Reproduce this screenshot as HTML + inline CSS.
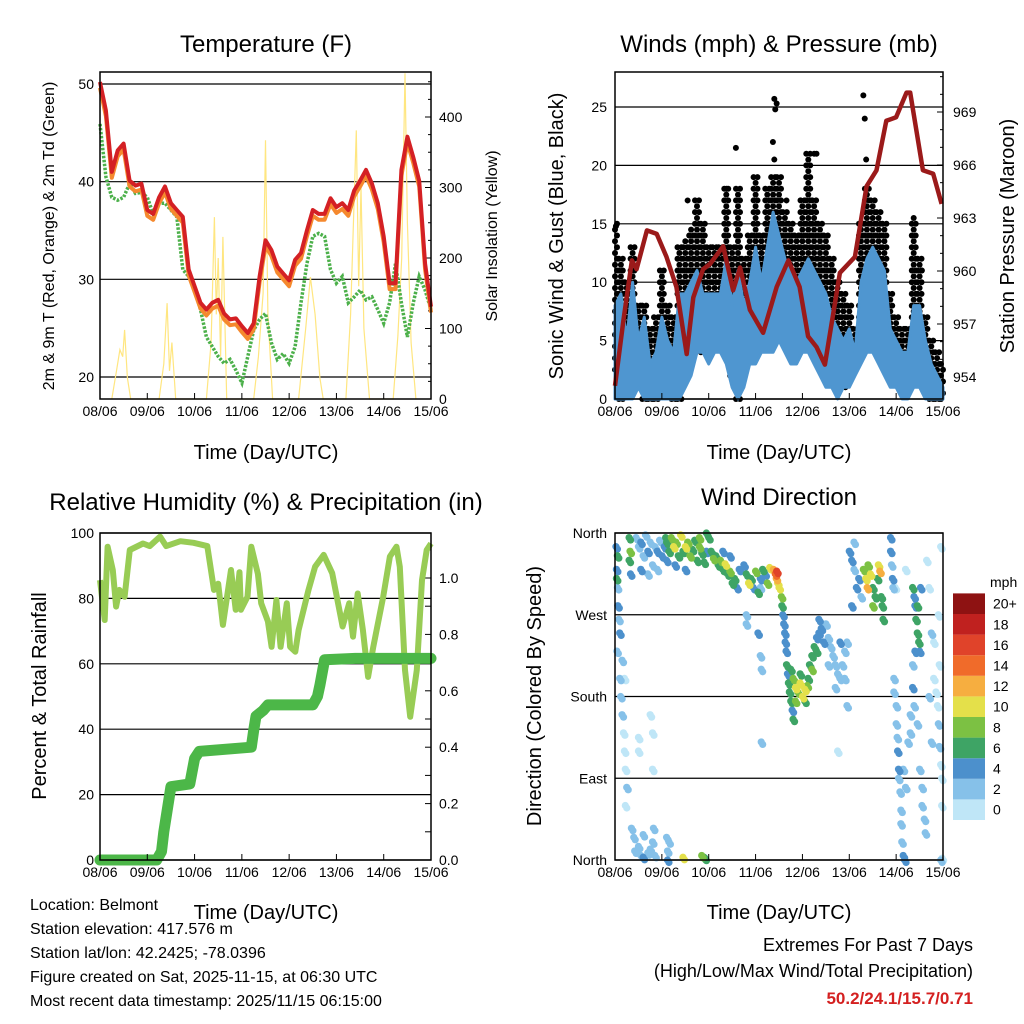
<!DOCTYPE html>
<html><head><meta charset="utf-8"><style>
html,body{margin:0;padding:0;background:#fff}
svg{display:block;font-family:"Liberation Sans",sans-serif}
</style></head><body>
<svg id="c" width="1024" height="1024" viewBox="0 0 1024 1024" xmlns="http://www.w3.org/2000/svg">
<text x="266" y="52" font-size="24" text-anchor="middle">Temperature (F)</text>
<text x="779" y="52" font-size="24" text-anchor="middle">Winds (mph) &amp; Pressure (mb)</text>
<text x="266" y="510" font-size="24" text-anchor="middle">Relative Humidity (%) &amp; Precipitation (in)</text>
<text x="779" y="505" font-size="24" text-anchor="middle">Wind Direction</text>
<text x="266" y="459" font-size="20" text-anchor="middle">Time (Day/UTC)</text>
<text x="779" y="459" font-size="20" text-anchor="middle">Time (Day/UTC)</text>
<text x="266" y="919" font-size="20" text-anchor="middle">Time (Day/UTC)</text>
<text x="779" y="919" font-size="20" text-anchor="middle">Time (Day/UTC)</text>
<text transform="translate(54,236) rotate(-90)" font-size="16" text-anchor="middle">2m &amp; 9m T (Red, Orange) &amp; 2m Td (Green)</text>
<text transform="translate(497,236) rotate(-90)" font-size="16" text-anchor="middle">Solar Insolation (Yellow)</text>
<text transform="translate(563,236) rotate(-90)" font-size="20" text-anchor="middle">Sonic Wind &amp; Gust (Blue, Black)</text>
<text transform="translate(1014,236) rotate(-90)" font-size="20" text-anchor="middle">Station Pressure (Maroon)</text>
<text transform="translate(46,696) rotate(-90)" font-size="20" text-anchor="middle">Percent &amp; Total Rainfall</text>
<text transform="translate(541,696) rotate(-90)" font-size="20" text-anchor="middle">Direction (Colored By Speed)</text>
<g font-size="16">
<text x="30" y="910">Location: Belmont</text>
<text x="30" y="934">Station elevation: 417.576 m</text>
<text x="30" y="958">Station lat/lon: 42.2425; -78.0396</text>
<text x="30" y="982">Figure created on Sat, 2025-11-15, at 06:30 UTC</text>
<text x="30" y="1006">Most recent data timestamp: 2025/11/15 06:15:00</text>
</g>
<g font-size="18" text-anchor="end">
<text x="973" y="951">Extremes For Past 7 Days</text>
<text x="973" y="977">(High/Low/Max Wind/Total Precipitation)</text>
<text x="973" y="1004" fill="#d42020" font-weight="bold" font-size="17">50.2/24.1/15.7/0.71</text>
</g>
</svg>
<script>
// ---------- data ----------
const dayLabels=["08/06","09/06","10/06","11/06","12/06","13/06","14/06","15/06"];
const tempRed=[50.2,47.3,41,43.2,43.9,40.1,39.6,39.8,37.1,36.7,38.4,39.5,37.8,37.1,36.4,31,29.3,27.6,26.9,27.6,27.9,26.5,25.9,26,25.2,24.5,25.5,30.3,34,33,31.3,30.6,29.9,32,32.7,35,37.1,36.7,36.7,38.3,37.4,37.8,37.1,39.1,40.1,41.2,39.8,37.8,34.4,29.6,29.6,41.2,44.6,42.5,40.1,31.6,27.2];
const tempDew=[45.9,40.5,38.4,38.1,38.4,39.8,38.8,38.9,38.4,36.7,37.8,37.8,37.1,36.4,31,30.3,28.9,26.9,24.1,23.1,22.1,21.4,21.8,20.7,19.4,22.1,24.8,25.9,26.5,23.5,21.8,22.4,21.4,23.1,27.6,31.6,34.4,34.7,34.4,31,29.6,30.3,27.6,28.2,28.9,27.9,28.2,26.9,25.5,27.6,31.6,27.6,24.1,27.6,30.3,28.9,26.9];
const solarT=[0.25,0.35,0.42,0.48,0.52,0.58,0.65, 1.25,1.35,1.42,1.47,1.52,1.6, 2.25,2.35,2.42,2.46,2.5,2.55,2.6,2.68, 3.25,3.35,3.45,3.5,3.55,3.65, 4.2,4.35,4.45,4.55,4.65,4.72, 5.2,5.3,5.35,5.42,5.47,5.52,5.58,5.7, 6.2,6.3,6.38,6.45,6.5,6.58,6.68];
const solarV=[0,40,70,60,98,30,0, 0,50,136,40,80,0, 0,80,258,120,200,60,230,0, 0,60,150,367,120,0, 0,100,173,120,30,0, 0,120,230,381,160,300,100,0, 0,90,200,462,250,80,0];
const presT=[0,0.18,0.36,0.46,0.68,0.89,1.1,1.31,1.53,1.67,1.88,2.03,2.31,2.52,2.67,2.88,3.16,3.45,3.7,3.94,4.12,4.3,4.48,4.8,5.12,5.37,5.58,5.79,6.0,6.22,6.3,6.57,6.79,6.97];
const presV=[953.5,957.2,960.6,960.1,962.3,962.1,960.8,959.1,955.3,958.5,960.1,960.4,961.4,958.9,960.2,957.8,956.5,959.1,960.6,959.1,956.3,955.7,954.7,959.9,960.8,964.8,965.7,968.5,968.7,970.1,970.1,965.7,965.5,963.8];
const gustHi=[15,12,10,13,8,8,6,7,11,8,7,13,13.5,14.5,17,15,13,13,13,18,13,18,12,14,19,14,18,19,19,16,15,14,17,21,17,15,14,12,10,9,8,6,15,18,17,16,15,9,7,6,6,15.5,12,7,5,4,3];
const gustLo=[2,0,1,3,3,0,0,0,2,2,0,0,3,5,5,4,4,5,5,4,2,0,3,4,5,6,5,6,7,5,4,5,5,6,4,3,3,2,1,1,2,3,5,6,6,5,3,2,2,1,1,2,2,1,0,0,0];
const windHi=[8,9,5,10,5,7,3,4,7,5,4,9,9,10,11,9,9,9,9,12,8,11,8,10,13,10,13,16,14,12,11,10,11,12,11,10,9,7,6,5,6,4,10,12,13,12,11,6,5,4,4,8,8,5,3,2,1];
const windLo=[0,0,0,0,1,0,0,0,0,0,0,0,1,2,4,4,3,4,4,3,1,0,1,3,3,4,4,4,5,4,3,3,4,4,3,2,1,1,0,1,1,2,3,4,4,3,2,1,1,0,0,1,1,0,0,0,0];
const outT=[3.4,3.45,3.42,3.37,3.4,5.3,5.33,5.36,2.58,4.3,4.25,3.66,1.55,2.38,6.55,0.02];
const outV=[25.7,25.3,24.8,22,20.5,26,24,20.5,21.5,21,21,17,17,18,11,14.8];
const rhT=[0,0.1,0.16,0.27,0.34,0.41,0.52,0.63,0.91,1.05,1.27,1.4,1.7,1.98,2.27,2.41,2.5,2.6,2.77,2.87,2.95,2.98,3.12,3.2,3.34,3.41,3.55,3.63,3.73,3.82,3.95,4.02,4.13,4.2,4.41,4.55,4.73,4.91,5.13,5.27,5.35,5.45,5.56,5.67,5.78,5.99,6.13,6.27,6.34,6.45,6.56,6.7,6.81,6.91,7];
const rhV=[85.6,73.4,95.8,88.7,77.5,82.6,80.5,94.8,96.8,96,98.9,96,97.5,97,96,82.6,84.5,71.9,88.7,76.5,88,76.5,80.5,95.8,87.5,78.5,73,65.2,79.5,65.2,78.5,65.2,63.7,70.3,82.6,89.7,93.3,87.7,71.4,78.5,68.3,81.5,70.3,56,65.2,80.5,92.8,95.8,89.7,58.1,43.8,58.1,85.6,94.8,96.8];
const rainT=[0,1.2,1.3,1.35,1.5,1.9,2.0,2.1,3.2,3.25,3.3,3.45,3.55,4.5,4.6,4.65,4.75,5.4,7];
const rainV=[0,0,0.03,0.1,0.26,0.27,0.36,0.385,0.40,0.46,0.51,0.53,0.55,0.55,0.58,0.62,0.71,0.715,0.715];
const dirT=[
0.02,0.03,0.05,0.06,0.08,0.1,0.04,0.1,0.12,0.15,0.18,0.2,0.22,0.25,0.22,0.05,0.03,0.3,0.32,0.3,0.33,
0.45,0.5,0.55,0.6,0.65,0.7,0.75,0.8,0.85,0.9,0.95,1.0,1.05,1.1,0.55,0.7,0.9,1.08,
0.35,0.4,0.42,0.5,0.55,0.6,0.7,0.75,0.8,0.82,0.85,1.1,1.12,0.8,0.8,0.75,0.2,0.15,0.5,0.5,
1.1,1.15,1.2,1.25,1.3,1.35,1.4,1.45,1.5,1.55,1.6,1.65,1.7,1.75,1.8,1.85,1.9,1.95,1.28,1.5,1.8,1.95,2.0,
2.05,2.1,2.15,2.2,2.25,2.3,2.35,2.4,2.45,2.5,2.55,2.6,2.65,2.3,2.45,
2.75,2.8,2.85,2.9,2.95,3.0,3.05,3.1,3.15,3.2,3.25,3.3,2.8,2.8,3.1,3.05,3.1,3.12,3.12,
3.38,3.42,3.45,3.44,3.47,3.5,
3.55,3.56,3.58,3.6,3.62,3.63,3.65,3.66,3.68,3.7,3.72,3.75,3.78,3.8,
3.75,3.8,3.85,3.9,3.95,4.0,4.05,4.1,4.12,3.85,3.95,4.05,
4.15,4.2,4.25,4.3,4.35,4.4,4.3,4.45,4.5,4.2,4.35,
4.55,4.6,4.65,4.7,4.75,4.8,4.85,4.9,4.95,4.7,4.55,4.8,4.9,4.75,4.95,
5.0,5.05,5.1,5.15,5.2,5.25,5.05,5.1,
5.3,5.35,5.38,5.4,5.45,5.5,5.55,5.6,5.62,5.65,5.68,5.7,5.72,5.5,
5.88,5.88,5.9,5.92,5.93,5.95,5.95,6.0,6.0,6.02,6.03,6.05,6.05,6.08,6.1,6.1,6.12,6.15,6.18,6.15,6.2,6.25,6.3,6.3,5.98,6.2,
6.35,6.38,6.4,6.42,6.45,6.48,6.5,6.52,6.45,6.4,6.35,6.35,6.38,6.45,6.5,6.55,6.55,6.6,6.62,
6.65,6.7,6.75,6.8,6.85,6.88,6.9,6.92,6.95,6.97,6.97,6.95,6.9,6.8,6.7,6.75,6.95,6.98,6.92,
1.45,1.85,1.9,1.92,1.12,1.15,0.6];
const dirDeg=[
345,320,300,280,265,250,230,200,180,160,140,120,100,80,60,335,310,355,340,330,315,
355,345,350,335,358,340,350,325,345,320,352,335,345,330,320,315,340,355,
35,25,10,15,5,28,8,12,20,35,5,25,10,100,140,160,200,220,120,135,
350,340,355,345,350,335,358,340,345,350,335,342,352,330,345,338,328,340,325,320,355,360,355,
340,332,335,325,330,320,326,315,318,305,310,300,320,340,335,
325,315,305,310,300,318,295,310,320,315,305,322,270,260,300,250,225,210,130,
320,315,318,310,305,300,
290,280,270,260,250,240,230,215,205,195,185,175,165,155,
210,200,190,185,195,180,188,192,200,175,205,175,
215,225,235,245,250,255,230,240,260,210,265,
245,235,225,215,205,200,215,230,240,190,215,240,200,120,170,
340,330,320,300,310,290,280,350,
320,310,300,325,315,300,290,310,325,318,290,280,265,280,
355,340,325,310,300,200,185,170,150,135,120,100,90,75,55,40,20,5,0,100,80,130,140,160,300,320,
300,290,280,265,250,240,230,300,280,230,215,190,170,150,100,80,60,45,30,
330,300,250,200,185,170,150,125,105,90,60,345,270,240,180,130,0,2,215,
3,5,3,2,0,20,3];
const dirSpd=[
4,4,3,4,3,4,2,2,2,2,1,1,1,2,1,7,7,7,8,6,4,
2,3,4,2,3,4,2,3,2,2,3,4,5,4,4,2,5,6,
2,2,3,2,3,2,2,3,2,2,2,2,2,1,1,1,1,2,1,1,
7,6,9,11,8,7,10,7,10,9,8,7,6,7,8,7,6,5,4,4,8,6,7,
7,8,6,7,8,7,10,7,9,6,7,5,4,5,4,
5,7,10,6,4,9,7,5,6,4,8,11,3,2,2,4,2,2,2,
13,15,16,12,10,10,
8,7,5,4,5,4,4,6,5,7,6,6,5,6,
7,9,10,8,10,11,10,9,7,8,6,7,
7,6,6,5,4,5,7,4,3,8,5,
2,3,2,3,2,3,2,2,3,2,3,4,3,1,2,
4,4,3,4,5,3,4,2,
9,10,13,8,10,7,6,7,10,12,6,7,6,8,
4,4,3,4,3,2,2,2,3,2,4,4,3,3,2,2,3,4,4,2,2,2,3,3,1,1,
6,5,4,7,6,7,4,5,6,4,3,4,3,3,2,2,2,2,3,
1,1,2,1,0,1,2,2,1,0,1,0,1,1,2,2,2,1,0,
10,9,7,6,4,2,4];
const speedColors=["#bfe6f7","#86c1e9","#4c90cc","#3ea465","#7cc143","#e4e04a","#f6ae40","#f06b2a","#e0432a","#c0211f","#8e1212"];
const speedLabels=["0","2","4","6","8","10","12","14","16","18","20+"];

// ---------- helpers ----------
const svg=document.getElementById('c');
const NS="http://www.w3.org/2000/svg";
function mk(tag,attrs,parent){const e=document.createElementNS(NS,tag);for(const k in attrs)e.setAttribute(k,attrs[k]);(parent||svg).appendChild(e);return e;}
function txt(s,x,y,size,anchor,parent){const e=mk('text',{x:x,y:y,'font-size':size,'text-anchor':anchor},parent);e.textContent=s;return e;}
function lin(d0,d1,r0,r1){return v=>r0+(v-d0)/(d1-d0)*(r1-r0);}
function path(pts){return pts.map((p,i)=>(i?'L':'M')+p[0].toFixed(1)+' '+p[1].toFixed(1)).join('');}

function frame(name){
  const g=mk('g',{});
  
  
  return g;
}
function box(x0,x1,y0,y1){
  const r=mk('rect',{x:x0,y:y0,width:x1-x0,height:y1-y0,fill:'none',stroke:'#000','stroke-width':1.5});
  
  
}
function xAxis(x0,x1,y1){
  const sx=lin(0,7,x0,x1);
  const g=mk('g',{'font-size':14});
  
  
  dayLabels.forEach((l,i)=>{
    const x=sx(i);
    mk('line',{x1:x,x2:x,y1:y1,y2:y1-6,stroke:'#000','stroke-width':1},g);
    const t=txt(l,x,y1+17,14,'middle',g);
    
    
  });
}

// ---------- panel 1: temperature ----------
(function(){
  const X0=100,X1=431,Y0=72,Y1=399;
  const sx=lin(0,7,X0,X1), sy=lin(20,50,377,84), sr=lin(0,400,399,117);
  const g=frame('temperature-chart');
  [20,30,40,50].forEach(v=>{
    mk('line',{x1:X0,x2:X1,y1:sy(v),y2:sy(v),stroke:'#000','stroke-width':1.2},g);
    const t=txt(String(v),X0-6,sy(v)+5,14,'end',g);
    
    
  });
  for(let v=0;v<=450;v+=25){const y=sr(v);mk('line',{x1:X1,x2:X1-(v%100?3:6),y1:y,y2:y,stroke:'#000'},g);}
  [0,100,200,300,400].forEach(v=>{
    const t=txt(String(v),X1+8,sr(v)+5,14,'start',g);
    
    
  });
  const sol=mk('path',{d:path(solarT.map((t,i)=>[sx(t),sr(solarV[i])])),fill:'none',stroke:'#ffe680','stroke-width':1.2},g);
  
  
  const step=0.125;
  const dew=mk('path',{d:path(tempDew.map((v,i)=>[sx(i*step),sy(v)])),fill:'none',stroke:'#4cb04a','stroke-width':3.5,'stroke-dasharray':'2.5 1.5'},g);
  
  
  const org=mk('path',{d:path(tempRed.map((v,i)=>[sx(i*step),sy(v-0.6)])),fill:'none',stroke:'#f5892e','stroke-width':4,'stroke-linejoin':'round'},g);
  
  
  const red=mk('path',{d:path(tempRed.map((v,i)=>[sx(i*step),sy(v)])),fill:'none',stroke:'#d42024','stroke-width':4,'stroke-linejoin':'round'},g);
  
  
  box(X0,X1,Y0,Y1);xAxis(X0,X1,Y1);
})();

// ---------- panel 2: winds ----------
(function(){
  const X0=615,X1=943,Y0=72,Y1=399;
  const sx=lin(0,7,X0,X1), sy=lin(0,25,399,107), sp=lin(954,969,377,112);
  const g=frame('winds-chart');
  [0,5,10,15,20,25].forEach(v=>{
    mk('line',{x1:X0,x2:X1,y1:sy(v),y2:sy(v),stroke:'#000','stroke-width':1.2},g);
    const t=txt(String(v),X0-8,sy(v)+5,14,'end',g);
    
    
  });
  for(let v=953;v<=971;v++){const y=sp(v);mk('line',{x1:X1,x2:X1-((v%3)?3:6),y1:y,y2:y,stroke:'#000'},g);}
  [954,957,960,963,966,969].forEach(v=>{
    const t=txt(String(v),X1+10,sp(v)+5,14,'start',g);
    
    
  });
  const step=0.125, dg=mk('g',{fill:'#000'},g);
  
  
  gustHi.forEach((hi,i)=>{
    const lo=gustLo[i];
    for(let k=0;k<3;k++){
      const t=i*step+(k-1)*step/3;
      if(t<0||t>7)continue;
      for(let v=lo+(k%2)*0.5;v<=hi;v+=1.0){
        mk('circle',{cx:sx(t).toFixed(1),cy:sy(v).toFixed(1),r:3},dg);
      }
    }
  });
  outT.forEach((t,i)=>{
    const c=mk('circle',{cx:sx(t),cy:sy(outV[i]),r:3,fill:'#000'},g);
    
    
  });
  const top=windHi.map((v,i)=>[sx(i*step),sy(v)]);
  const bot=windLo.map((v,i)=>[sx(i*step),sy(v)]).reverse();
  const wb=mk('path',{d:path(top.concat(bot))+'Z',fill:'#4f96d0',stroke:'#4f96d0','stroke-width':3,'stroke-linejoin':'round'},g);
  
  
  const pl=mk('path',{d:path(presT.map((t,i)=>[sx(t),sp(presV[i])])),fill:'none',stroke:'#9b1a1a','stroke-width':4.5,'stroke-linejoin':'round'},g);
  
  
  box(X0,X1,Y0,Y1);xAxis(X0,X1,Y1);
})();

// ---------- panel 3: humidity & rain ----------
(function(){
  const X0=100,X1=431,Y0=533,Y1=860;
  const sx=lin(0,7,X0,X1), sy=lin(0,100,860,533), sr=lin(0,1,860,578);
  const g=frame('humidity-chart');
  [0,20,40,60,80,100].forEach(v=>{
    mk('line',{x1:X0,x2:X1,y1:sy(v),y2:sy(v),stroke:'#000','stroke-width':1.2},g);
    const t=txt(String(v),X0-6,sy(v)+5,14,'end',g);
    
    
  });
  for(let v=0;v<=1.1;v+=0.1){const y=sr(v);mk('line',{x1:X1,x2:X1-6,y1:y,y2:y,stroke:'#000'},g);}
  [0,0.2,0.4,0.6,0.8,1.0].forEach(v=>{
    const t=txt(v.toFixed(1),X1+8,sr(v)+5,14,'start',g);
    
    
  });
  const rh=mk('path',{d:path(rhT.map((t,i)=>[sx(t),sy(rhV[i])])),fill:'none',stroke:'#98cc55','stroke-width':6,'stroke-linejoin':'round'},g);
  
  
  const rn=mk('path',{d:path(rainT.map((t,i)=>[sx(t),sr(rainV[i])])),fill:'none',stroke:'#4cb748','stroke-width':11,'stroke-linejoin':'round','stroke-linecap':'round'},g);
  
  
  box(X0,X1,Y0,Y1);xAxis(X0,X1,Y1);
})();

// ---------- panel 4: wind direction ----------
(function(){
  const X0=615,X1=943,Y0=533,Y1=860;
  const sx=lin(0,7,X0,X1), sy=lin(0,360,860,533);
  const g=frame('wind-direction-chart');
  const dn=["North","East","South","West","North"];
  [0,90,180,270,360].forEach((v,i)=>{
    mk('line',{x1:X0,x2:X1,y1:sy(v),y2:sy(v),stroke:'#000','stroke-width':1.2},g);
    const t=txt(dn[i],X0-8,sy(v)+5,14,'end',g);
    
    
  });
  const idx=dirT.map((_,i)=>i).sort((a,b)=>dirSpd[a]-dirSpd[b]);
  const pg=mk('g',{},g);
  
  
  idx.forEach(i=>{
    const ci=Math.min(10,Math.floor(dirSpd[i]/2));
    const x=sx(dirT[i]), y=sy(dirDeg[i]);
    mk('circle',{cx:x,cy:y,r:3.6,fill:speedColors[ci]},pg);
    mk('circle',{cx:x+1.5,cy:y+2.5,r:3.6,fill:speedColors[ci]},pg);
  });
  box(X0,X1,Y0,Y1);xAxis(X0,X1,Y1);
  const cb=mk('g',{},svg);
  
  
  const h=20.6, yb=820;
  speedColors.forEach((c,i)=>{
    mk('rect',{x:953,y:yb-(i+1)*h,width:32,height:h,fill:c},cb);
    const t=txt(speedLabels[i],993,yb-i*h-h/2+5,14,'start',cb);
    
    
  });
  const m=txt('mph',990,587,14,'start',cb);
  
  
})();
</script>
</body></html>
